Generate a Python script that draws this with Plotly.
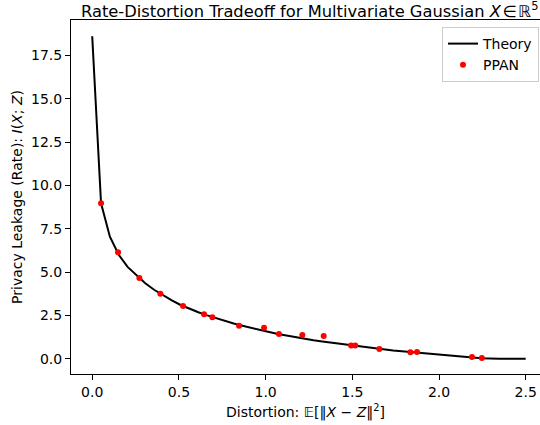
import plotly.graph_objects as go

# Theory curve
theory_x = [0.0, 0.051, 0.102, 0.153, 0.204, 0.255, 0.306, 0.357, 0.408, 0.459,
            0.510, 0.561, 0.612, 0.663, 0.714, 0.765, 0.816, 0.867, 0.918, 0.969,
            1.020, 1.071, 1.122, 1.173, 1.224, 1.276, 1.327, 1.378, 1.429, 1.480,
            1.531, 1.582, 1.633, 1.684, 1.735, 1.786, 1.837, 1.888, 1.939, 1.990,
            2.041, 2.092, 2.143, 2.194, 2.245, 2.296, 2.347, 2.398, 2.449, 2.500]
theory_y = [18.6, 8.97, 7.04, 6.0, 5.3, 4.8, 4.35, 3.98, 3.65, 3.37,
            3.1, 2.87, 2.68, 2.5, 2.33, 2.18, 2.03, 1.9, 1.77, 1.65,
            1.54, 1.43, 1.33, 1.24, 1.15, 1.07, 1.0, 0.93, 0.86, 0.79,
            0.72, 0.66, 0.60, 0.54, 0.48, 0.43, 0.38, 0.33, 0.28, 0.24,
            0.19, 0.15, 0.11, 0.07, 0.03, 0.0, 0.0, 0.0, 0.0, 0.0]

# PPAN points
ppan_x = [0.051, 0.149, 0.272, 0.393, 0.524, 0.645, 0.693, 0.847, 0.991, 1.077,
          1.212, 1.335, 1.493, 1.517, 1.656, 1.835, 1.873, 2.19, 2.247]
ppan_y = [8.97, 6.14, 4.66, 3.75, 3.04, 2.56, 2.39, 1.91, 1.79, 1.43,
          1.37, 1.31, 0.77, 0.77, 0.56, 0.37, 0.39, 0.10, 0.04]

x_ticks = [0.0, 0.5, 1.0, 1.5, 2.0, 2.5]
y_ticks = [0.0, 2.5, 5.0, 7.5, 10.0, 12.5, 15.0, 17.5]

FONT = "DejaVu Sans"
W, H = 540, 425
L, R, T, B = 71, 0, 20, 51
PW = W - L - R

fig = go.Figure()
fig.add_trace(go.Scatter(x=theory_x, y=theory_y, mode="lines", name="Theory",
                         line=dict(color="black", width=2)))
fig.add_trace(go.Scatter(x=ppan_x, y=ppan_y, mode="markers", name="PPAN",
                         marker=dict(color="red", size=6)))

fig.add_annotation(
    text="Rate-Distortion Tradeoff for Multivariate Gaussian <i>X</i>\u200a\u2208\u200a\u211d<sup>5</sup>",
    xref="paper", yref="paper", x=(79 - L) / PW, xanchor="left",
    y=1 + (T - 10) / (H - T - B), yanchor="middle", showarrow=False,
    font=dict(family=FONT, size=16.3, color="black"))

fig.update_layout(
    width=W, height=H,
    margin=dict(l=L, r=R, t=T, b=B, autoexpand=False),
    paper_bgcolor="white", plot_bgcolor="white",
    font=dict(family=FONT, size=14, color="black"),
    legend=dict(x=(539 - L) / PW, xanchor="right", y=1 - 7 / (H - T - B), yanchor="top",
                bgcolor="white", bordercolor="#cccccc", borderwidth=1,
                font=dict(family=FONT, size=14, color="black")),
    xaxis=dict(range=[-0.1223, 2.5824], tickvals=x_ticks, tickformat=".1f",
               showline=True, linecolor="black", linewidth=1, mirror=True,
               ticks="outside", ticklen=5, tickwidth=1, tickcolor="black",
               showgrid=False, zeroline=False, automargin=False,
               title=dict(text="Distortion: \U0001D53C[\u2016<i>X</i> \u2212 <i>Z</i>\u2016<sup>2</sup>]",
                          standoff=8, font=dict(family=FONT, size=14))),
    yaxis=dict(range=[-0.88, 19.54], tickvals=y_ticks, tickformat=".1f",
               showline=True, linecolor="black", linewidth=1,
               ticks="outside", ticklen=5, tickwidth=1, tickcolor="black",
               showgrid=False, zeroline=False, automargin=False,
               title=dict(text="Privacy Leakage (Rate): <i>I</i>(<i>X</i>; <i>Z</i>)",
                          standoff=5, font=dict(family=FONT, size=14))),
)

fig.write_html("out.html",
               config={"displayModeBar": False},
               post_script="document.body.style.margin='0';document.body.style.padding='0';")
